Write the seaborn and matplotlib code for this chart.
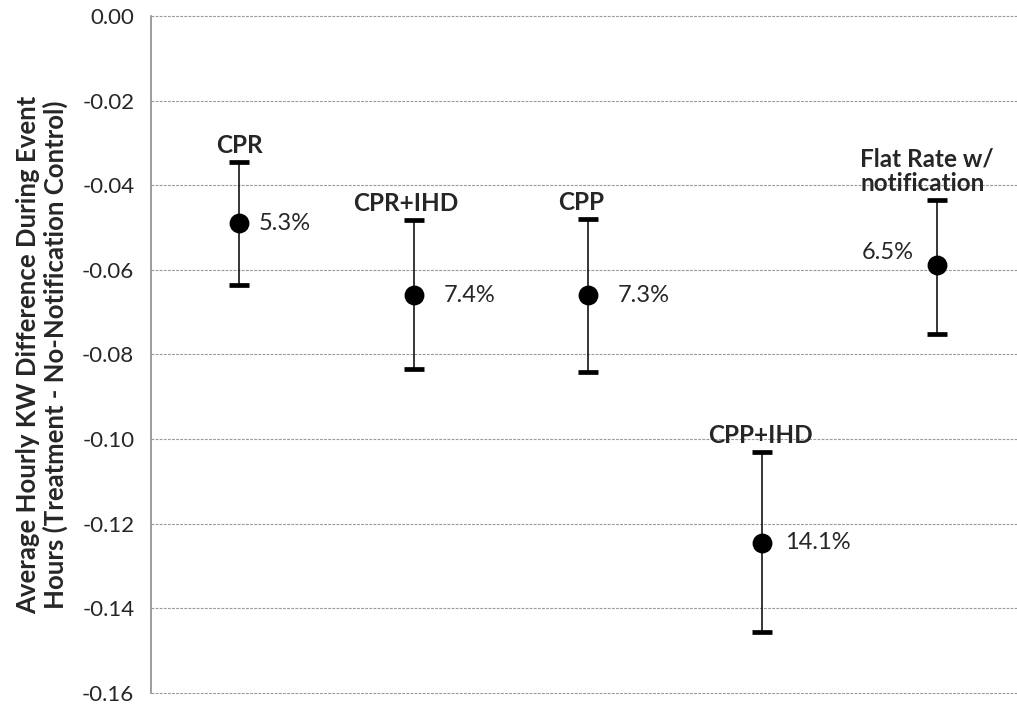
import matplotlib
matplotlib.use("Agg")
import matplotlib.pyplot as plt
import seaborn as sns
import pandas as pd
import numpy as np

categories = ["CPR", "CPR+IHD", "CPP", "CPP+IHD", "Flat Rate w/\nnotification"]
means = [-0.049, -0.066, -0.066, -0.1245, -0.0589]
upper = [-0.0345, -0.0482, -0.048, -0.103, -0.0435]
lower = [-0.0636, -0.0834, -0.0841, -0.1456, -0.0752]
pct_labels = ["5.3%", "7.4%", "7.3%", "14.1%", "6.5%"]
yticks = [0.00, -0.02, -0.04, -0.06, -0.08, -0.10, -0.12, -0.14, -0.16]

sns.set_theme(style="white")
plt.rcParams['font.family'] = ['Lato', 'DejaVu Sans']

df = pd.DataFrame({"x": np.arange(len(categories)), "mean": means,
                   "upper": upper, "lower": lower})

fig = plt.figure(figsize=(10.17, 7.08), dpi=100)
ax = fig.add_axes([0.1485, 0.0212, 0.8515, 0.9562])

# error bars
yerr = np.array([df["mean"] - df["lower"], df["upper"] - df["mean"]])
ax.errorbar(df["x"], df["mean"], yerr=yerr, fmt="none", ecolor="black",
            elinewidth=1.1, capsize=0, zorder=3)
sns.scatterplot(data=df, x="x", y="upper", marker="_", s=190, color="black",
                linewidth=3.4, ax=ax, zorder=4, legend=False)
sns.scatterplot(data=df, x="x", y="lower", marker="_", s=190, color="black",
                linewidth=3.4, ax=ax, zorder=4, legend=False)
sns.scatterplot(data=df, x="x", y="mean", s=175, color="black",
                edgecolor="black", ax=ax, zorder=5, legend=False)

ax.set_xlim(-0.506, 4.46)
ax.set_ylim(-0.16, 0.0)
ax.set_yticks(yticks)
ax.set_yticklabels([f"{v:.2f}" for v in yticks], fontsize=16)
ax.set_xticks([])
ax.set_xlabel("")
ax.set_ylabel("Average Hourly KW Difference During Event\nHours (Treatment - No-Notification Control)",
              fontsize=18.5, fontweight="bold", labelpad=10, linespacing=1.15)

for s in ["top", "right", "bottom"]:
    ax.spines[s].set_visible(False)
ax.spines["left"].set_color("#8c8c8c")
ax.spines["left"].set_linewidth(1.2)
ax.tick_params(axis="y", direction="out", length=6, color="#8c8c8c", width=1, pad=6)
ax.yaxis.grid(True, linestyle=(0, (2.5, 1.2)), color="#9a9a9a", linewidth=0.8)
for gl in ax.get_ygridlines():
    gl.set_clip_on(False)
ax.set_axisbelow(True)

lab_kw = dict(ha="center", va="bottom", fontsize=17.5, fontweight="bold")
off = 0.0012
ax.text(0, upper[0] + off, categories[0], **lab_kw)
ax.text(0.955, upper[1] + off, categories[1], **lab_kw)
ax.text(1.96, upper[2] + off, categories[2], **lab_kw)
ax.text(2.99, upper[3] + off, categories[3], **lab_kw)
ax.text(3.56, upper[4] + off, categories[4], ha="left", va="bottom",
        fontsize=17.5, fontweight="bold", linespacing=1.1)

# percentage labels
pct_kw = dict(va="center", fontsize=17)
ax.text(0.11, means[0], pct_labels[0], ha="left", **pct_kw)
ax.text(1.17, means[1], pct_labels[1], ha="left", **pct_kw)
ax.text(2.17, means[2], pct_labels[2], ha="left", **pct_kw)
ax.text(3.13, means[3], pct_labels[3], ha="left", **pct_kw)
ax.text(3.87, means[4] + 0.003, pct_labels[4], ha="right", **pct_kw)

fig.savefig("out.png", dpi=100)
